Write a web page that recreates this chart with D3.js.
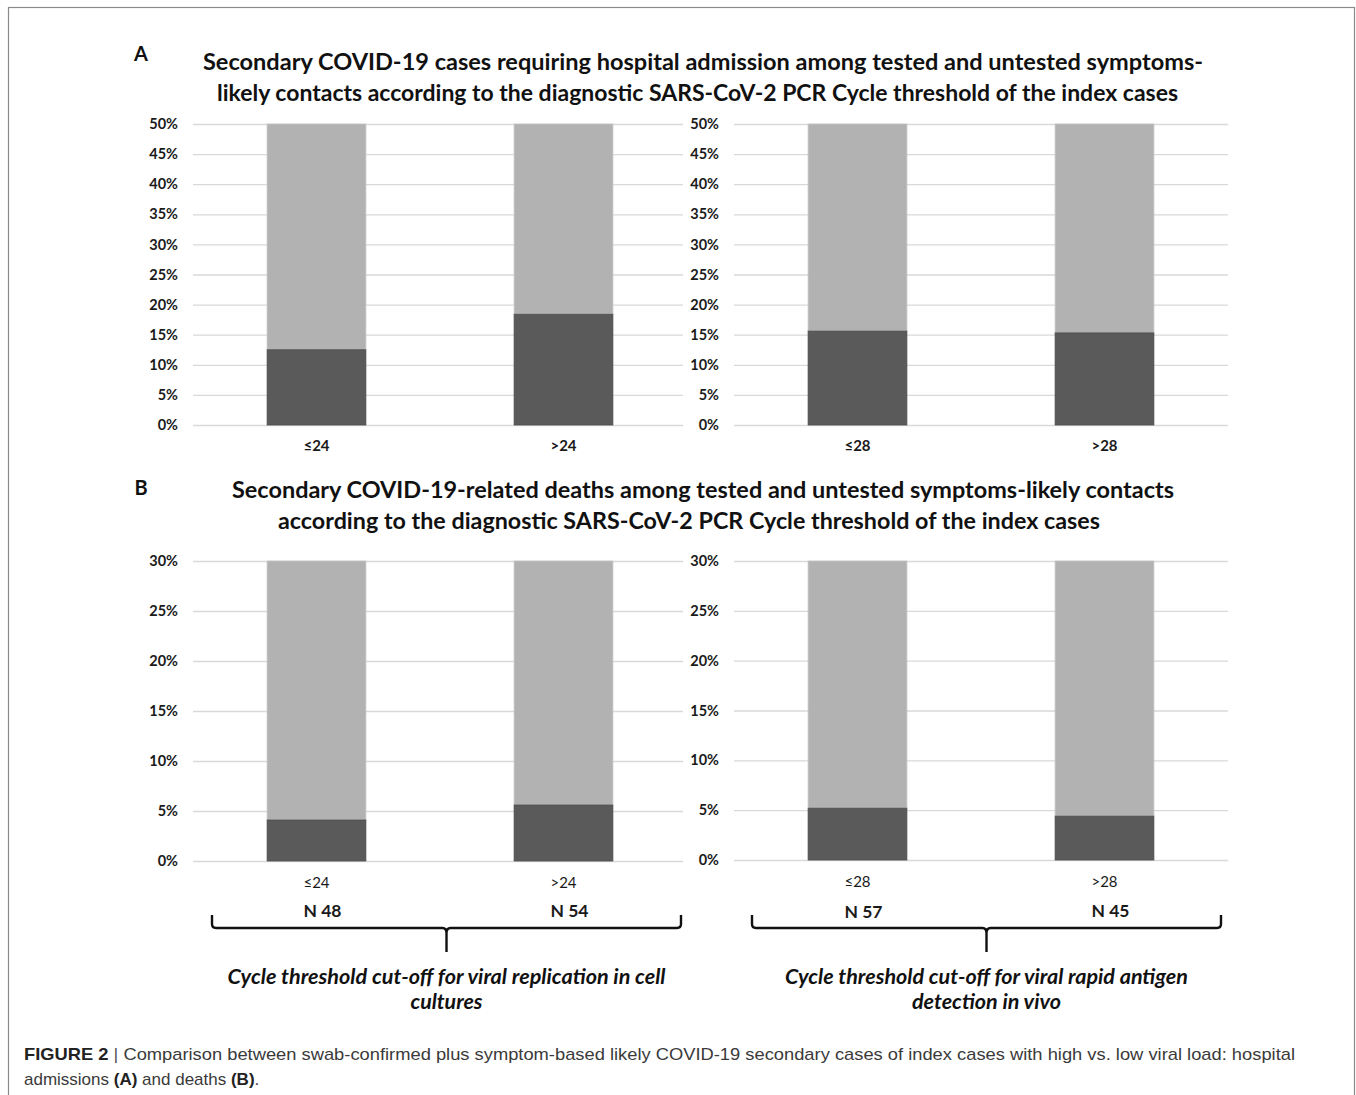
<!DOCTYPE html>
<html>
<head>
<meta charset="utf-8">
<script src="https://cdn.jsdelivr.net/npm/d3@7"></script>
<style>
  html, body { margin: 0; padding: 0; background: #fff; }
  svg { display: block; }
</style>
</head>
<body>
<script>
// Ct cut-off groups
const ctReplication = ["≤24", ">24"];
const ctAntigen = ["≤28", ">28"];

// Share (%) of contacts with the outcome, per index-case Ct group
const hospitalReplication = [12.5, 18.4];
const hospitalAntigen = [15.6, 15.3];
const deathsReplication = [4.1, 5.6];
const deathsAntigen = [5.2, 4.4];

// Group sizes
const nReplication = ["N 48", "N 54"];
const nAntigen = ["N 57", "N 45"];

// Axis ticks
const ticksHospital = [0, 5, 10, 15, 20, 25, 30, 35, 40, 45, 50];
const ticksDeaths = [0, 5, 10, 15, 20, 25, 30];

const titleA = [
  "Secondary COVID-19 cases requiring hospital admission among tested and untested symptoms-",
  "likely contacts according to the diagnostic SARS-CoV-2 PCR Cycle threshold of the index cases"
];
const titleB = [
  "Secondary COVID-19-related deaths among tested and untested symptoms-likely contacts",
  "according to the diagnostic SARS-CoV-2 PCR Cycle threshold of the index cases"
];
const braceLabels = [
  ["Cycle threshold cut-off for viral replication in cell", "cultures"],
  ["Cycle threshold cut-off for viral rapid antigen", "detection in vivo"]
];

const W = 1356, H = 1095;
const FONT = "Lato, 'Open Sans', sans-serif";
const DARK = "#5a5a5a", LIGHT = "#b2b2b2", GRID = "#d9d9d9";

const svg = d3.select("body").append("svg").attr("width", W).attr("height", H);

// figure frame
svg.append("rect").attr("x", 8.5).attr("y", 7.5).attr("width", 1346).attr("height", 1100)
  .attr("fill", "none").attr("stroke", "#8a8a8a").attr("stroke-width", 1.2);

function panel(cats, vals, ticks, yMax, x0, x1, gridEnd, yBottom, yTop, boldCats, catY) {
  const x = d3.scaleBand().domain(cats).range([x0, x1]).paddingInner(0.6).paddingOuter(0.3);
  const y = d3.scaleLinear().domain([0, yMax]).range([yBottom, yTop]).clamp(true);
  const g = svg.append("g");

  // gridlines + tick labels
  const axis = d3.axisLeft(y).tickValues(ticks).tickSize(-(gridEnd - x0)).tickPadding(15)
    .tickFormat(d => d + "%");
  const ga = g.append("g").attr("transform", `translate(${x0},0)`).call(axis);
  ga.select(".domain").remove();
  ga.selectAll(".tick line").attr("stroke", GRID).attr("stroke-width", 1.3);
  ga.selectAll(".tick text").attr("font-family", FONT).attr("font-weight", 700)
    .attr("font-size", 14.5).attr("fill", "#1a1a1a");

  // stacked bars: outcome share, then remainder
  const rows = cats.map((c, i) => ({ cat: c, yes: vals[i], no: 100 - vals[i] }));
  const stacked = d3.stack().keys(["yes", "no"])(rows);
  const colors = { yes: DARK, no: LIGHT };
  stacked.slice().reverse().forEach(s => {
    g.append("g").selectAll("rect").data(s).join("rect")
      .attr("x", d => x(d.data.cat))
      .attr("width", x.bandwidth())
      .attr("y", d => y(d[1]))
      .attr("height", d => y(d[0]) - y(d[1]))
      .attr("fill", colors[s.key])
      .attr("stroke", s.key === "yes" ? "#4d4d4d" : "#c4c4c4")
      .attr("stroke-width", 0.8);
  });

  // category labels
  g.append("g").selectAll("text").data(cats).join("text")
    .attr("x", d => x(d) + x.bandwidth() / 2)
    .attr("y", catY)
    .attr("text-anchor", "middle").attr("dominant-baseline", "central")
    .attr("font-family", FONT).attr("font-size", 15)
    .attr("font-weight", boldCats ? 700 : 400).attr("fill", "#1a1a1a")
    .text(d => d);
  return x;
}

function title(lines, ys, lengths, cx) {
  lines.forEach((t, i) => {
    svg.append("text").attr("x", cx[i]).attr("y", ys[i])
      .attr("text-anchor", "middle").attr("dominant-baseline", "central")
      .attr("font-family", FONT).attr("font-weight", 700).attr("font-size", 23)
      .attr("fill", "#111")
      .attr("textLength", lengths[i]).attr("lengthAdjust", "spacingAndGlyphs")
      .text(t);
  });
}

function letter(t, y) {
  svg.append("text").attr("x", 141).attr("y", y).attr("text-anchor", "middle")
    .attr("dominant-baseline", "central").attr("font-family", FONT)
    .attr("font-weight", 700).attr("font-size", 20).attr("fill", "#111").text(t);
}

// Panel A
letter("A", 53);
title(titleA, [61, 92], [1000, 961], [703, 697.5]);
panel(ctReplication, hospitalReplication, ticksHospital, 50, 193, 687, 683, 425, 124, true, 445);
panel(ctAntigen, hospitalAntigen, ticksHospital, 50, 734, 1228, 1228, 425, 124, true, 445);

// Panel B
letter("B", 487);
title(titleB, [489, 520], [942, 822], [703, 689]);
const xl = panel(ctReplication, deathsReplication, ticksDeaths, 30, 193, 687, 683, 861, 561, false, 882);
const xr = panel(ctAntigen, deathsAntigen, ticksDeaths, 30, 734, 1228, 1228, 860, 561, false, 881);

// group sizes
[[xl, ctReplication, nReplication, 910], [xr, ctAntigen, nAntigen, 910]].forEach(([x, cats, ns, yy]) => {
  svg.append("g").selectAll("text").data(cats).join("text")
    .attr("x", d => x(d) + x.bandwidth() / 2 + 6)
    .attr("y", (d, i) => yy + (cats === ctAntigen && i === 0 ? 1 : 0))
    .attr("text-anchor", "middle").attr("dominant-baseline", "central")
    .attr("font-family", FONT).attr("font-weight", 700).attr("font-size", 17.5)
    .attr("fill", "#1a1a1a")
    .text((d, i) => ns[i]);
});

// curly braces under each chart
function brace(xa, xb, yLine, label, lengths) {
  const xm = (xa + xb) / 2;
  const p = d3.path();
  p.moveTo(xa, yLine - 13);
  p.lineTo(xa, yLine - 4);
  p.quadraticCurveTo(xa, yLine, xa + 4, yLine);
  p.lineTo(xm - 4, yLine);
  p.quadraticCurveTo(xm, yLine, xm, yLine + 5);
  p.lineTo(xm, yLine + 24);
  p.moveTo(xm, yLine + 5);
  p.quadraticCurveTo(xm, yLine, xm + 4, yLine);
  p.lineTo(xb - 4, yLine);
  p.quadraticCurveTo(xb, yLine, xb, yLine - 4);
  p.lineTo(xb, yLine - 13);
  svg.append("path").attr("d", p.toString()).attr("fill", "none")
    .attr("stroke", "#111").attr("stroke-width", 2.4);
  label.forEach((t, i) => {
    svg.append("text").attr("x", xm).attr("y", 976 + i * 25)
      .attr("text-anchor", "middle").attr("dominant-baseline", "central")
      .attr("font-family", FONT).attr("font-weight", 700).attr("font-style", "italic")
      .attr("font-size", 20).attr("fill", "#111")
      .attr("textLength", lengths[i]).attr("lengthAdjust", "spacingAndGlyphs")
      .text(t);
  });
}
brace(212, 681, 928, braceLabels[0], [438, 72]);
brace(752, 1221, 928, braceLabels[1], [403, 149]);

// caption
const CAP = "'Liberation Sans', Arial, sans-serif";
const cap1 = svg.append("text").attr("x", 24).attr("y", 1054).attr("dominant-baseline", "central")
  .attr("font-family", CAP).attr("font-size", 17).attr("fill", "#3a3a3a")
  .attr("textLength", 1271).attr("lengthAdjust", "spacingAndGlyphs");
cap1.append("tspan").attr("font-weight", 700).attr("fill", "#222").text("FIGURE 2");
cap1.append("tspan").attr("fill", "#555").text(" | ");
cap1.append("tspan").text("Comparison between swab-confirmed plus symptom-based likely COVID-19 secondary cases of index cases with high vs. low viral load: hospital");
const cap2 = svg.append("text").attr("x", 24).attr("y", 1079).attr("dominant-baseline", "central")
  .attr("font-family", CAP).attr("font-size", 17).attr("fill", "#3a3a3a");
cap2.append("tspan").text("admissions ");
cap2.append("tspan").attr("font-weight", 700).attr("fill", "#222").text("(A)");
cap2.append("tspan").text(" and deaths ");
cap2.append("tspan").attr("font-weight", 700).attr("fill", "#222").text("(B)");
cap2.append("tspan").text(".");
</script>
</body>
</html>
